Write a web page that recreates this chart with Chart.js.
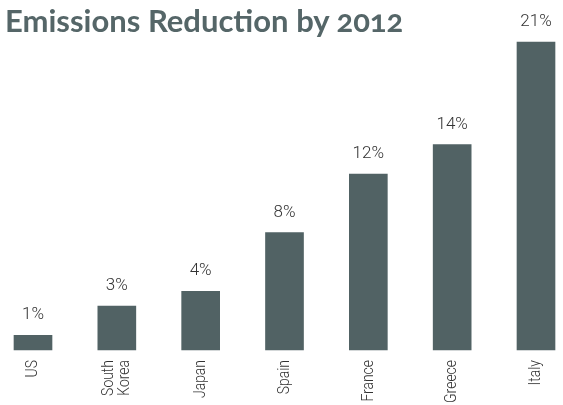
<!DOCTYPE html>
<html>
<head>
<meta charset="utf-8">
<script src="https://cdn.jsdelivr.net/npm/chart.js@4"></script>
<style>
  html, body { margin: 0; padding: 0; background: #fff; }
  #wrap { position: relative; width: 563px; height: 405px; }
  #title {
    position: absolute; left: 5px; top: 1px;
    font-family: Lato, "Open Sans", sans-serif; font-weight: bold;
    font-size: 31px; color: #556668; white-space: nowrap;
    font-variant-numeric: oldstyle-nums;
  }
  canvas { position: absolute; left: 0; top: 0; }
</style>
</head>
<body>
<div id="wrap">
  <canvas id="chart" width="563" height="405"></canvas>
  <div id="title">Emissions Reduction by 2012</div>
</div>
<script>
const countries = ['US', ['South', 'Korea'], 'Japan', 'Spain', 'France', 'Greece', 'Italy'];
const reduction = [1, 3, 4, 8, 12, 14, 21];

// percentage text above each bar
const valueLabels = {
  id: 'valueLabels',
  afterDatasetsDraw(chart) {
    const ctx = chart.ctx;
    const meta = chart.getDatasetMeta(0);
    ctx.save();
    ctx.font = '300 17px Roboto, sans-serif';
    ctx.fillStyle = '#333';
    ctx.textAlign = 'center';
    ctx.textBaseline = 'alphabetic';
    meta.data.forEach(function(bar, i) {
      ctx.fillText(reduction[i] + '%', bar.x, bar.y - 16);
    });
    ctx.restore();
  }
};

// vertical, slightly condensed country names under the bars
const countryLabels = {
  id: 'countryLabels',
  afterDraw(chart) {
    const ctx = chart.ctx;
    const x = chart.scales.x;
    const top = chart.chartArea.bottom + 10;
    ctx.save();
    ctx.font = '300 17px Roboto, sans-serif';
    ctx.fillStyle = '#333';
    ctx.textAlign = 'right';
    ctx.textBaseline = 'middle';
    countries.forEach(function(name, i) {
      const lines = [].concat(name);
      const cx = x.getPixelForValue(i);
      lines.forEach(function(line, j) {
        ctx.save();
        ctx.translate(cx + (j - (lines.length - 1) / 2) * 16, top);
        ctx.rotate(-Math.PI / 2);
        ctx.scale(0.82, 1);
        ctx.fillText(line, 0, 0);
        ctx.restore();
      });
    });
    ctx.restore();
  }
};

const ctx = document.getElementById('chart').getContext('2d');
new Chart(ctx, {
  type: 'bar',
  data: {
    labels: countries,
    datasets: [{
      data: reduction,
      backgroundColor: '#516264',
      barThickness: 38,
      clip: false
    }]
  },
  options: {
    responsive: false,
    animation: false,
    layout: { padding: { left: 33, right: 27, top: 42, bottom: 0 } },
    plugins: { legend: { display: false }, tooltip: { enabled: false } },
    scales: {
      x: {
        offset: false,
        grid: { display: false },
        border: { display: false },
        ticks: { display: false },
        afterFit(scale) { scale.height = 55; }
      },
      y: {
        display: false,
        min: 0, max: 21
      }
    }
  },
  plugins: [valueLabels, countryLabels]
});
</script>
</body>
</html>
